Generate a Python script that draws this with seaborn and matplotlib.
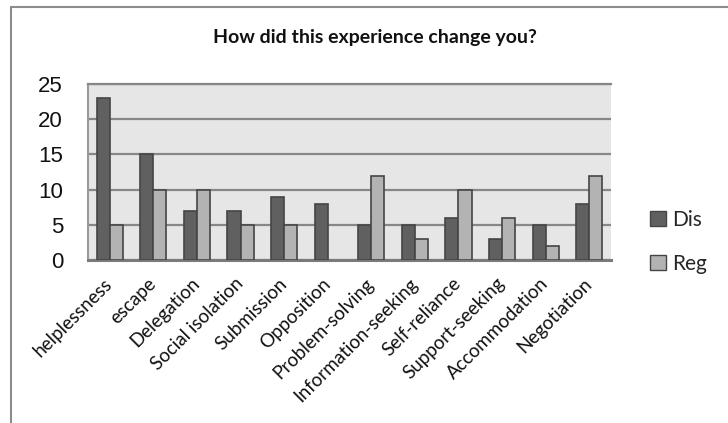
import matplotlib
matplotlib.use("Agg")
import matplotlib.pyplot as plt
from matplotlib.patches import Patch
from matplotlib.lines import Line2D
import pandas as pd
import seaborn as sns

# Coping categories and counts per group
categories = ["helplessness", "escape", "Delegation", "Social isolation", "Submission",
              "Opposition", "Problem-solving", "Information-seeking", "Self-reliance",
              "Support-seeking", "Accommodation", "Negotiation"]
dis_values = [23, 15, 7, 7, 9, 8, 5, 5, 6, 3, 5, 8]
reg_values = [5, 10, 10, 5, 5, 0, 12, 3, 10, 6, 2, 12]
series_names = ["Dis", "Reg"]
y_ticks = [0, 5, 10, 15, 20, 25]
title_text = "How did this experience change you?"

df = pd.DataFrame({
    "category": categories * 2,
    "group": [series_names[0]] * len(categories) + [series_names[1]] * len(categories),
    "count": dis_values + reg_values,
})

colors = {"Dis": "#606060", "Reg": "#b3b3b3"}
edge = "#454545"

sns.set_theme(style="white")
plt.rcParams["font.family"] = ["Lato", "DejaVu Sans"]

W, H = 728, 423
fig = plt.figure(figsize=(W / 100, H / 100), dpi=100)
fig.patch.set_facecolor("white")

# Outer chart frame (top and left edges fall inside the canvas)
frame_kw = dict(transform=fig.transFigure, color="#8c8c8c", linewidth=1.5)
fig.lines.append(Line2D([11 / W, 1.0], [1 - 7 / H, 1 - 7 / H], **frame_kw))
fig.lines.append(Line2D([11 / W, 11 / W], [0.0, 1 - 7 / H], **frame_kw))

left, right, top, bottom = 88, 611, 84, 260
ax = fig.add_axes([left / W, 1 - bottom / H, (right - left) / W, (bottom - top) / H])

sns.barplot(data=df, x="category", y="count", hue="group", palette=colors,
            order=categories, hue_order=series_names, width=0.6, gap=0,
            edgecolor=edge, linewidth=1.2, legend=False, ax=ax, zorder=3)

# Empty bars leave no outline on the axis
for bar in ax.patches:
    if bar.get_height() == 0:
        bar.set_visible(False)

ax.set_facecolor("#e6e6e6")
ax.set_ylim(0, 25)
ax.set_xlim(-0.5, len(categories) - 0.5)
ax.set_yticks(y_ticks)
ax.yaxis.grid(True, color="#878787", linewidth=1.6, zorder=1)
ax.xaxis.grid(False)
ax.set_axisbelow(True)
ax.set_xlabel("")
ax.set_ylabel("")

ax.spines["right"].set_visible(False)
ax.spines["top"].set_color("#878787")
ax.spines["top"].set_linewidth(1.6)
ax.spines["left"].set_color("#9a9a9a")
ax.spines["left"].set_linewidth(1.5)
ax.spines["bottom"].set_color("#7a7a7a")
ax.spines["bottom"].set_linewidth(2.2)

ax.tick_params(axis="both", length=0)
ax.tick_params(axis="y", pad=18)
for lab in ax.get_yticklabels():
    lab.set_fontfamily(["Liberation Sans", "DejaVu Sans"])
    lab.set_fontsize(16)
    lab.set_color("#111111")

ax.set_xticks(range(len(categories)))
ax.set_xticklabels(categories, rotation=45, ha="right", va="center",
                   rotation_mode="anchor", fontsize=13.5, color="#111111")
ax.tick_params(axis="x", pad=15)

fig.text(375 / W, 1 - 38 / H, title_text, ha="center", va="center",
         fontsize=14, fontweight="bold", color="#111111")

handles = [Patch(facecolor=colors[n], edgecolor=edge, linewidth=1.0, label=n)
           for n in series_names]
fig.legend(handles=handles, loc="upper left", bbox_to_anchor=(650 / W, 1 - 210 / H),
           frameon=False, fontsize=15, handlelength=0.75, handleheight=0.75,
           handletextpad=0.3, labelspacing=1.15, borderpad=0, borderaxespad=0)

fig.savefig("out.png", dpi=100)
